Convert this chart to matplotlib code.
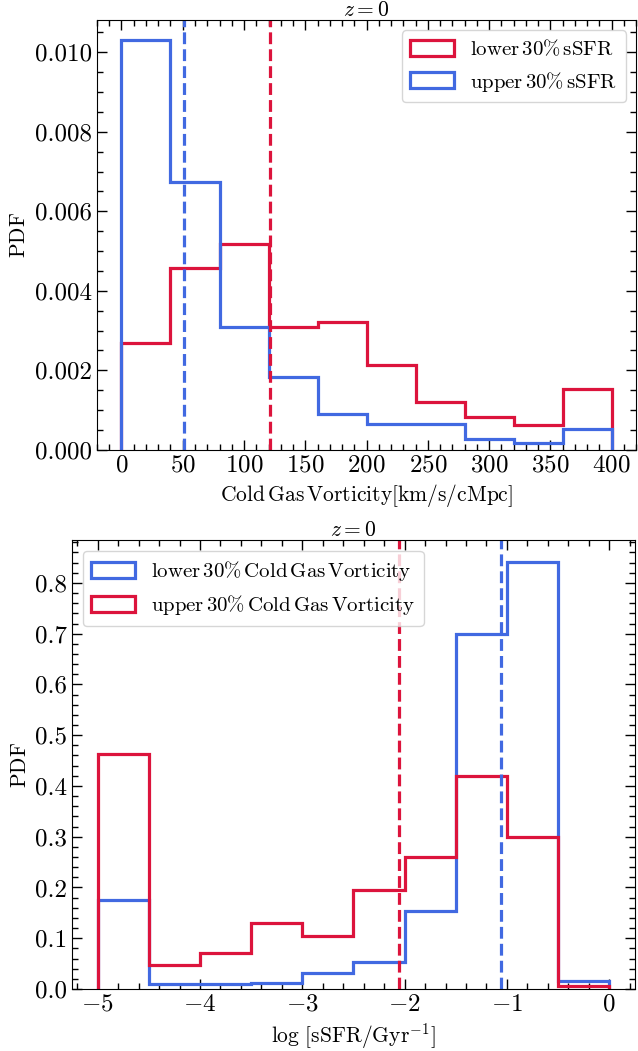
import matplotlib
matplotlib.use("Agg")
import matplotlib.pyplot as plt
import numpy as np
from matplotlib.ticker import MultipleLocator

plt.rcParams["font.family"] = "serif"
plt.rcParams["font.serif"] = ["cmr10", "DejaVu Serif"]
plt.rcParams["mathtext.fontset"] = "cm"
plt.rcParams["axes.formatter.use_mathtext"] = True

RED = "#DC143C"
BLUE = "#4169E1"

# panel 1: cold gas vorticity split by sSFR
vort_edges = [0, 40, 80, 120, 160, 200, 240, 280, 320, 360, 400]
vort_low_ssfr = [0.00269, 0.00458, 0.00519, 0.00310, 0.00321, 0.00214,
                 0.00120, 0.00082, 0.00063, 0.00153]
vort_up_ssfr = [0.01030, 0.00674, 0.00309, 0.00182, 0.00089, 0.00066,
                0.00066, 0.00028, 0.00018, 0.00052]
vort_med_low = 121
vort_med_up = 51

# panel 2: sSFR split by cold gas vorticity
ssfr_edges = [-5.0, -4.5, -4.0, -3.5, -3.0, -2.5, -2.0, -1.5, -1.0, -0.5, 0.0]
ssfr_low_vort = [0.175, 0.0098, 0.0105, 0.0124, 0.032, 0.054, 0.154,
                 0.700, 0.842, 0.015]
ssfr_up_vort = [0.463, 0.047, 0.071, 0.130, 0.105, 0.195, 0.261,
                0.420, 0.299, 0.0065]
ssfr_med_low = -1.06
ssfr_med_up = -2.05

LW = 2.3
TICK_FS = 18
LABEL_FS = 15.5
LEG_FS = 15


def style_axes(ax):
    ax.tick_params(which="both", direction="in", top=True, right=True,
                   labelsize=TICK_FS)
    ax.tick_params(which="major", length=7, width=1)
    ax.tick_params(which="minor", length=4, width=1)


fig = plt.figure(figsize=(6.38, 10.51), dpi=100)
ax1 = fig.add_axes([0.152, 0.572, 0.845, 0.409])
ax2 = fig.add_axes([0.113, 0.059, 0.882, 0.427])

# ---- top panel
e = np.array(vort_edges)
ax1.hist(e[:-1], bins=e, weights=vort_low_ssfr, histtype="step", color=RED,
         lw=LW, label=r"$\rm lower\,30\%\,sSFR$")
ax1.hist(e[:-1], bins=e, weights=vort_up_ssfr, histtype="step", color=BLUE,
         lw=LW, label=r"$\rm upper\,30\%\,sSFR$")
ax1.axvline(vort_med_low, color=RED, ls="--", lw=LW)
ax1.axvline(vort_med_up, color=BLUE, ls="--", lw=LW)
ax1.set_xlim(-20, 420)
ax1.xaxis.set_major_locator(MultipleLocator(50))
ax1.xaxis.set_minor_locator(MultipleLocator(10))
ax1.yaxis.set_major_locator(MultipleLocator(0.002))
ax1.yaxis.set_minor_locator(MultipleLocator(0.0005))
ax1.yaxis.set_major_formatter(plt.FuncFormatter(lambda v, p: f"{v:.3f}"))
ax1.set_xlabel(r"$\rm Cold\,Gas\,Vorticity[km/s/cMpc]$", fontsize=LABEL_FS)
ax1.set_ylabel(r"$\rm PDF$", fontsize=LABEL_FS)
ax1.set_title(r"$z=0$", fontsize=LABEL_FS, pad=3)
ax1.legend(loc="upper right", fontsize=LEG_FS, handleheight=0.8,
           handlelength=2.1)
style_axes(ax1)

# ---- bottom panel
e2 = np.array(ssfr_edges)
ax2.hist(e2[:-1], bins=e2, weights=ssfr_low_vort, histtype="step", color=BLUE,
         lw=LW, label=r"$\rm lower\,30\%\,Cold\,Gas\,Vorticity$")
ax2.hist(e2[:-1], bins=e2, weights=ssfr_up_vort, histtype="step", color=RED,
         lw=LW, label=r"$\rm upper\,30\%\,Cold\,Gas\,Vorticity$")
ax2.axvline(ssfr_med_up, color=RED, ls="--", lw=LW)
ax2.axvline(ssfr_med_low, color=BLUE, ls="--", lw=LW)
ax2.set_xlim(-5.25, 0.25)
ax2.xaxis.set_major_locator(MultipleLocator(1))
ax2.xaxis.set_minor_locator(MultipleLocator(0.2))
ax2.yaxis.set_major_locator(MultipleLocator(0.1))
ax2.yaxis.set_minor_locator(MultipleLocator(0.02))
ax2.yaxis.set_major_formatter(plt.FuncFormatter(lambda v, p: f"{v:.1f}"))
ax2.set_xlabel(r"$\log\,[\rm sSFR/Gyr^{-1}]$", fontsize=LABEL_FS)
ax2.set_ylabel(r"$\rm PDF$", fontsize=LABEL_FS)
ax2.set_title(r"$z=0$", fontsize=LABEL_FS, pad=3)
ax2.legend(loc="upper left", fontsize=LEG_FS, handleheight=0.8,
           handlelength=2.1)
style_axes(ax2)

fig.savefig("out.png", dpi=100)
